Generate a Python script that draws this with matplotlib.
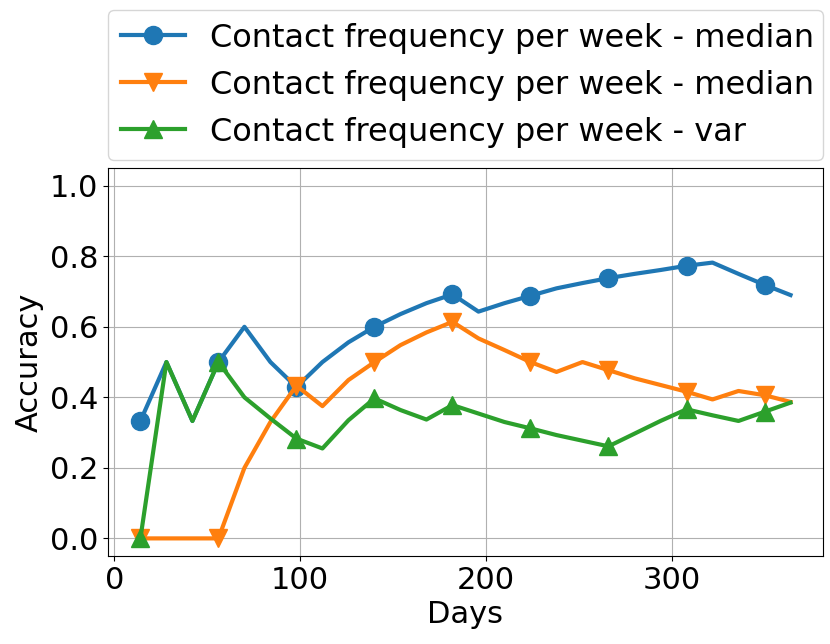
import matplotlib
matplotlib.use("Agg")
import matplotlib.pyplot as plt

# дни (каждые две недели)
days = [14, 28, 42, 56, 70, 84, 98, 112, 126, 140, 154, 168, 182,
        196, 210, 224, 238, 252, 266, 280, 294, 308, 322, 336, 350, 364]

median_a = [0.333, 0.5, 0.333, 0.5, 0.6, 0.5, 0.429, 0.5, 0.556, 0.6, 0.636, 0.667, 0.692,
            0.643, 0.667, 0.688, 0.709, 0.724, 0.738, 0.75, 0.761, 0.773, 0.782, 0.75, 0.719, 0.69]
median_b = [0.0, 0.0, 0.0, 0.0, 0.2, 0.33, 0.433, 0.375, 0.449, 0.5, 0.548, 0.584, 0.614,
            0.567, 0.534, 0.5, 0.472, 0.5, 0.477, 0.454, 0.435, 0.416, 0.394, 0.418, 0.406, 0.387]
var = [0.0, 0.5, 0.333, 0.5, 0.4, 0.34, 0.283, 0.255, 0.335, 0.397, 0.364, 0.337, 0.378,
       0.354, 0.33, 0.312, 0.293, 0.277, 0.261, 0.297, 0.333, 0.366, 0.349, 0.333, 0.359, 0.385]

labels = ["Contact frequency per week - median",
          "Contact frequency per week - median",
          "Contact frequency per week - var"]

plt.rcParams['font.size'] = 22

fig, ax = plt.subplots(figsize=(8.3, 6.44), dpi=100)
fig.subplots_adjust(left=0.130, right=0.9916, bottom=0.1366, top=0.739)

ax.plot(days, median_a, marker='o', markevery=3, linewidth=3, markersize=13, label=labels[0])
ax.plot(days, median_b, marker='v', markevery=3, linewidth=3, markersize=13, label=labels[1])
ax.plot(days, var, marker='^', markevery=3, linewidth=3, markersize=13, label=labels[2])

ax.set_ylim(-0.05, 1.05)
ax.set_xlabel("Days")
ax.set_ylabel("Accuracy")
ax.grid(True)
ax.legend(loc='lower left', bbox_to_anchor=(0, 1.02, 1, 0.2), mode='expand',
          borderaxespad=0, fontsize=23)

fig.savefig("out.png", dpi=100)
